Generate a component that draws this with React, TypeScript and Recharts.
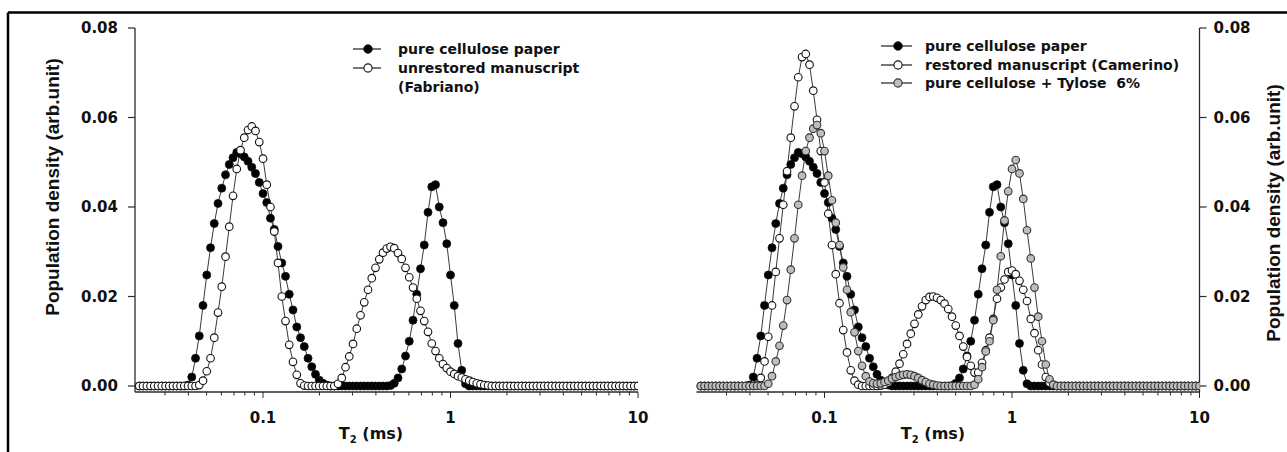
import React from 'react';
import { ComposedChart, Line, XAxis, YAxis } from 'recharts';

// T2 grid (ms)
const T2 = [
  0.02188, 0.02291, 0.02399, 0.02512, 0.0263, 0.02754, 0.02884, 0.0302, 0.03162, 0.03311,
  0.03467, 0.03631, 0.03802, 0.03981, 0.04169, 0.04365, 0.04571, 0.04786, 0.05012, 0.05248,
  0.05495, 0.05754, 0.06026, 0.0631, 0.06607, 0.06918, 0.07244, 0.07586, 0.07943, 0.08318,
  0.0871, 0.0912, 0.0955, 0.1, 0.1047, 0.1096, 0.1148, 0.1202, 0.1259, 0.1318,
  0.138, 0.1445, 0.1514, 0.1585, 0.166, 0.1738, 0.182, 0.1905, 0.1995, 0.2089,
  0.2188, 0.2291, 0.2399, 0.2512, 0.263, 0.2754, 0.2884, 0.302, 0.3162, 0.3311,
  0.3467, 0.3631, 0.3802, 0.3981, 0.4169, 0.4365, 0.4571, 0.4786, 0.5012, 0.5248,
  0.5495, 0.5754, 0.6026, 0.631, 0.6607, 0.6918, 0.7244, 0.7586, 0.7943, 0.8318,
  0.871, 0.912, 0.955, 1, 1.047, 1.096, 1.148, 1.202, 1.259, 1.318,
  1.38, 1.445, 1.514, 1.585, 1.66, 1.738, 1.82, 1.905, 1.995, 2.089,
  2.188, 2.291, 2.399, 2.512, 2.63, 2.754, 2.884, 3.02, 3.162, 3.311,
  3.467, 3.631, 3.802, 3.981, 4.169, 4.365, 4.571, 4.786, 5.012, 5.248,
  5.495, 5.754, 6.026, 6.31, 6.607, 6.918, 7.244, 7.586, 7.943, 8.318,
  8.71, 9.12, 9.55, 10,
];

const pureCellulose = [
  0, 0, 0, 0, 0, 0, 0, 0, 0, 0,
  0, 0, 0, 0.0002, 0.002, 0.0062, 0.0112, 0.018, 0.0248, 0.0309,
  0.0363, 0.0408, 0.0442, 0.0472, 0.0495, 0.051, 0.0522, 0.0519, 0.0512, 0.0502,
  0.0489, 0.0475, 0.0455, 0.043, 0.041, 0.0375, 0.035, 0.0312, 0.0275, 0.0245,
  0.0205, 0.017, 0.0132, 0.0108, 0.0088, 0.0062, 0.0043, 0.0026, 0.0013, 0.0006,
  0.0002, 0, 0, 0, 0, 0, 0, 0, 0, 0,
  0, 0, 0, 0, 0, 0, 0, 0.0001, 0.0006, 0.0018,
  0.0038, 0.0067, 0.01, 0.0147, 0.0205, 0.0262, 0.0315, 0.0388, 0.0445, 0.045,
  0.04, 0.0365, 0.0318, 0.0248, 0.018, 0.0095, 0.0035, 0.0005, 0, 0,
  0, 0, 0, 0, 0, 0, 0, 0, 0, 0,
  0, 0, 0, 0, 0, 0, 0, 0, 0, 0,
  0, 0, 0, 0, 0, 0, 0, 0, 0, 0,
  0, 0, 0, 0, 0, 0, 0, 0, 0, 0,
  0, 0, 0, 0,
];

const unrestoredFabriano = [
  0, 0, 0, 0, 0, 0, 0, 0, 0, 0,
  0, 0, 0, 0, 0, 0, 0.0002, 0.0012, 0.0033, 0.0062,
  0.0108, 0.0164, 0.0222, 0.0289, 0.0356, 0.0425, 0.0485, 0.0527, 0.0555, 0.0572,
  0.058, 0.057, 0.0545, 0.0508, 0.045, 0.04, 0.0345, 0.0275, 0.02, 0.0145,
  0.0092, 0.0054, 0.0025, 0.0006, 0.0001, 0, 0, 0, 0, 0,
  0, 0, 0, 0.0005, 0.0018, 0.0042, 0.0066, 0.0094, 0.0128, 0.0158,
  0.0187, 0.0215, 0.0241, 0.0264, 0.0283, 0.0298, 0.0307, 0.0311, 0.0308, 0.0297,
  0.0284, 0.0264, 0.0243, 0.022, 0.0195, 0.0168, 0.0145, 0.0121, 0.0095, 0.0078,
  0.0062, 0.0049, 0.004, 0.0032, 0.0027, 0.0022, 0.0019, 0.0015, 0.0012, 0.0009,
  0.0006, 0.0004, 0.0002, 0.0001, 0, 0, 0, 0, 0, 0,
  0, 0, 0, 0, 0, 0, 0, 0, 0, 0,
  0, 0, 0, 0, 0, 0, 0, 0, 0, 0,
  0, 0, 0, 0, 0, 0, 0, 0, 0, 0,
  0, 0, 0, 0,
];

const restoredCamerino = [
  0, 0, 0, 0, 0, 0, 0, 0, 0, 0,
  0, 0, 0, 0, 0, 0.0003, 0.0018, 0.0055, 0.011, 0.018,
  0.0255, 0.033, 0.0405, 0.048, 0.0555, 0.0625, 0.069, 0.0735, 0.0742, 0.0718,
  0.066, 0.0595, 0.0525, 0.0455, 0.0385, 0.0315, 0.025, 0.0185, 0.0125, 0.0075,
  0.0035, 0.0012, 0.0003, 0, 0, 0, 0, 0, 0.0001, 0.0003,
  0.0008, 0.0018, 0.0032, 0.005, 0.0071, 0.0094, 0.0117, 0.0139, 0.016, 0.0178,
  0.0192, 0.0199, 0.02, 0.0197, 0.0192, 0.0184, 0.0172, 0.0155, 0.0135, 0.0112,
  0.0088, 0.0065, 0.0045, 0.003, 0.003, 0.0052, 0.008, 0.0108, 0.015, 0.0195,
  0.022, 0.0238, 0.0255, 0.0258, 0.025, 0.0235, 0.0215, 0.019, 0.015, 0.0118,
  0.008, 0.0048, 0.002, 0.0007, 0.0002, 0, 0, 0, 0, 0,
  0, 0, 0, 0, 0, 0, 0, 0, 0, 0,
  0, 0, 0, 0, 0, 0, 0, 0, 0, 0,
  0, 0, 0, 0, 0, 0, 0, 0, 0, 0,
  0, 0, 0, 0,
];

const celluloseTylose = [
  0, 0, 0, 0, 0, 0, 0, 0, 0, 0,
  0, 0, 0, 0, 0, 0, 0, 0, 0.0005, 0.0022,
  0.0055, 0.009, 0.0135, 0.0192, 0.026, 0.033, 0.0405, 0.047, 0.0525, 0.0555,
  0.0575, 0.0583, 0.0565, 0.0525, 0.047, 0.0415, 0.0365, 0.0315, 0.0265, 0.0215,
  0.0165, 0.012, 0.0078, 0.0045, 0.0022, 0.001, 0.0006, 0.0005, 0.0006, 0.0009,
  0.0012, 0.0016, 0.002, 0.0023, 0.0025, 0.0026, 0.0025, 0.0022, 0.0018, 0.0013,
  0.0009, 0.0005, 0.0003, 0.0001, 0, 0, 0, 0, 0, 0,
  0, 0, 0, 0.0003, 0.0015, 0.0042, 0.0077, 0.01, 0.0147, 0.0215,
  0.029, 0.037, 0.0435, 0.0485, 0.0505, 0.0475, 0.0418, 0.0348, 0.0285, 0.022,
  0.0155, 0.01, 0.0048, 0.0015, 0.0003, 0, 0, 0, 0, 0,
  0, 0, 0, 0, 0, 0, 0, 0, 0, 0,
  0, 0, 0, 0, 0, 0, 0, 0, 0, 0,
  0, 0, 0, 0, 0, 0, 0, 0, 0, 0,
  0, 0, 0, 0,
];

const X_TICKS = [0.03, 0.04, 0.05, 0.06, 0.07, 0.08, 0.09, 0.1, 0.2, 0.3, 0.4, 0.5, 0.6, 0.7, 0.8, 0.9, 1, 2, 3, 4, 5, 6, 7, 8, 9, 10];
const X_MAJOR = [0.1, 1, 10];
const X_MAJOR_LABELS = ['0.1', '1', '10'];
const Y_TICKS = [0, 0.02, 0.04, 0.06, 0.08];
const X_DOMAIN: [number, number] = [0.02076, 10];
const Y_DOMAIN: [number, number] = [-0.00134, 0.08];

const LEFT_LEGEND = ['pure cellulose paper', 'unrestored manuscript', '(Fabriano)'];
const RIGHT_LEGEND = ['pure cellulose paper', 'restored manuscript (Camerino)', 'pure cellulose + Tylose  6%'];
const Y_TITLE = 'Population density (arb.unit)';

const leftData = T2.map((t, i) => ({ t, paper: pureCellulose[i], fabriano: unrestoredFabriano[i] }));
const rightData = T2.map((t, i) => ({
  t,
  paper: pureCellulose[i],
  camerino: restoredCamerino[i],
  tylose: celluloseTylose[i],
}));

const AXIS = '#2a2a2a';
const LINE = '#3a3a3a';
const TICK_FONT: React.CSSProperties = {
  fontFamily: '"DejaVu Sans", sans-serif',
  fontWeight: 700,
  fontSize: 15,
  fill: '#111',
};
const TITLE_FONT: React.CSSProperties = {
  fontFamily: '"Liberation Sans", Arial, sans-serif',
  fontWeight: 700,
  fontSize: 19,
  fill: '#111',
};
const LEGEND_FONT: React.CSSProperties = {
  fontFamily: '"DejaVu Sans", sans-serif',
  fontWeight: 700,
  fontSize: 14,
  fill: '#111',
  whiteSpace: 'pre',
};

const DOT_BLACK = { r: 4, fill: '#000', stroke: '#111', strokeWidth: 0.8 };
const DOT_OPEN = { r: 3.8, fill: '#fff', stroke: '#111', strokeWidth: 1.1 };
const DOT_GREY = { r: 3.8, fill: '#bdbdbd', stroke: '#333', strokeWidth: 1.1 };

function XTick(props: any) {
  const { x, y, payload } = props;
  const idx = X_MAJOR.indexOf(payload.value);
  const major = idx >= 0;
  return (
    <g>
      <line x1={x} x2={x} y1={y} y2={y + (major ? 6 : 3.5)} stroke={AXIS} strokeWidth={1} />
      {major ? (
        <text x={x} y={y + 31} textAnchor="middle" style={TICK_FONT}>
          {X_MAJOR_LABELS[idx]}
        </text>
      ) : null}
    </g>
  );
}

function xTitle(cx: number) {
  return () => (
    <text x={cx} y={439} textAnchor="middle" style={{ ...TICK_FONT, fontSize: 16 }}>
      <tspan>T</tspan>
      <tspan fontSize={10} dy={4}>2</tspan>
      <tspan dy={-4}> (ms)</tspan>
    </text>
  );
}

function yTitle(cx: number, cy: number) {
  return () => (
    <text
      transform={`translate(${cx},${cy}) rotate(-90)`}
      textAnchor="middle"
      dominantBaseline="central"
      style={TITLE_FONT}
    >
      {Y_TITLE}
    </text>
  );
}

const fmtY = (v: number) => v.toFixed(2);

function Marker({ x, y, dot }: { x: number; y: number; dot: any }) {
  return <circle cx={x} cy={y} r={dot.r + 0.3} fill={dot.fill} stroke={dot.stroke} strokeWidth={dot.strokeWidth} />;
}

function LegendRow({ x1, x2, mx, tx, y, dot, text }: any) {
  return (
    <g>
      {dot ? <line x1={x1} x2={x2} y1={y} y2={y} stroke="#555" strokeWidth={1.6} /> : null}
      {dot ? <Marker x={mx} y={y} dot={dot} /> : null}
      <text x={tx} y={y} dominantBaseline="central" style={LEGEND_FONT}>
        {text}
      </text>
    </g>
  );
}

function LeftChart() {
  return (
    <ComposedChart width={660} height={452} data={leftData} margin={{ top: 28, right: 22, left: 0, bottom: 0 }}>
      <XAxis
        dataKey="t"
        type="number"
        scale="log"
        domain={X_DOMAIN}
        allowDataOverflow
        ticks={X_TICKS}
        interval={0}
        tick={(p: any) => <XTick {...p} />}
        tickLine={false}
        tickSize={0}
        tickMargin={0}
        height={60}
        axisLine={{ stroke: AXIS, strokeWidth: 1.3 }}
        label={xTitle(371)}
      />
      <XAxis xAxisId="frameTop" orientation="top" type="number" domain={[0, 1]} tick={false} tickLine={false} height={0} axisLine={{ stroke: AXIS, strokeWidth: 1.3 }} />
      <YAxis
        type="number"
        domain={Y_DOMAIN}
        allowDataOverflow
        ticks={Y_TICKS}
        interval={0}
        tickFormatter={fmtY}
        tick={TICK_FONT}
        tickLine={{ stroke: AXIS, strokeWidth: 1.2 }}
        tickSize={7}
        tickMargin={10}
        width={135}
        axisLine={{ stroke: AXIS, strokeWidth: 1.3 }}
        label={yTitle(52, 187)}
      />
      <YAxis yAxisId="frameRight" orientation="right" type="number" domain={[0, 1]} tick={false} tickLine={false} width={0} axisLine={{ stroke: AXIS, strokeWidth: 1.3 }} />
      <Line dataKey="paper" type="linear" stroke={LINE} strokeWidth={1} dot={DOT_BLACK} activeDot={false} isAnimationActive={false} />
      <Line dataKey="fabriano" type="linear" stroke={LINE} strokeWidth={1} dot={DOT_OPEN} activeDot={false} isAnimationActive={false} />
    </ComposedChart>
  );
}

function RightChart() {
  return (
    <ComposedChart width={647} height={452} data={rightData} margin={{ top: 28, right: 0, left: 56.5, bottom: 0 }}>
      <XAxis
        dataKey="t"
        type="number"
        scale="log"
        domain={X_DOMAIN}
        allowDataOverflow
        ticks={X_TICKS}
        interval={0}
        tick={(p: any) => <XTick {...p} />}
        tickLine={false}
        tickSize={0}
        tickMargin={0}
        height={60}
        axisLine={{ stroke: AXIS, strokeWidth: 1.3 }}
        label={xTitle(293)}
      />
      <XAxis xAxisId="frameTop" orientation="top" type="number" domain={[0, 1]} tick={false} tickLine={false} height={0} axisLine={{ stroke: AXIS, strokeWidth: 1.3 }} />
      <YAxis
        orientation="right"
        type="number"
        domain={Y_DOMAIN}
        allowDataOverflow
        ticks={Y_TICKS}
        interval={0}
        tickFormatter={fmtY}
        tick={TICK_FONT}
        tickLine={{ stroke: AXIS, strokeWidth: 1.2 }}
        tickSize={7}
        tickMargin={7}
        width={87.5}
        axisLine={{ stroke: AXIS, strokeWidth: 1.3 }}
        label={yTitle(633, 213)}
      />
      <YAxis yAxisId="frameLeft" orientation="left" type="number" domain={[0, 1]} tick={false} tickLine={false} width={0} axisLine={{ stroke: AXIS, strokeWidth: 1.3 }} />
      <Line dataKey="paper" type="linear" stroke={LINE} strokeWidth={1} dot={DOT_BLACK} activeDot={false} isAnimationActive={false} />
      <Line dataKey="camerino" type="linear" stroke={LINE} strokeWidth={1} dot={DOT_OPEN} activeDot={false} isAnimationActive={false} />
      <Line dataKey="tylose" type="linear" stroke={LINE} strokeWidth={1} dot={DOT_GREY} activeDot={false} isAnimationActive={false} />
    </ComposedChart>
  );
}

export default function App() {
  return (
    <div style={{ position: 'absolute', left: 0, top: 0, width: 1287, height: 452, background: '#fff', overflow: 'hidden' }}>
      <div style={{ position: 'absolute', left: 0, top: 0 }}>
        <LeftChart />
      </div>
      <div style={{ position: 'absolute', left: 640, top: 0 }}>
        <RightChart />
      </div>
      <svg width={1287} height={452} style={{ position: 'absolute', left: 0, top: 0, pointerEvents: 'none' }}>
        <line x1={8} x2={1287} y1={12.5} y2={12.5} stroke="#000" strokeWidth={2.5} />
        <line x1={8} x2={8} y1={12.5} y2={452} stroke="#000" strokeWidth={2.5} />
        <LegendRow x1={353} x2={381} mx={368} tx={398} y={49} dot={DOT_BLACK} text={LEFT_LEGEND[0]} />
        <LegendRow x1={353} x2={381} mx={368} tx={398} y={68} dot={DOT_OPEN} text={LEFT_LEGEND[1]} />
        <LegendRow tx={398} y={87} dot={null} text={LEFT_LEGEND[2]} />
        <LegendRow x1={881} x2={912} mx={898} tx={925} y={46} dot={DOT_BLACK} text={RIGHT_LEGEND[0]} />
        <LegendRow x1={881} x2={912} mx={898} tx={925} y={65} dot={DOT_OPEN} text={RIGHT_LEGEND[1]} />
        <LegendRow x1={881} x2={912} mx={898} tx={925} y={83} dot={DOT_GREY} text={RIGHT_LEGEND[2]} />
      </svg>
    </div>
  );
}
